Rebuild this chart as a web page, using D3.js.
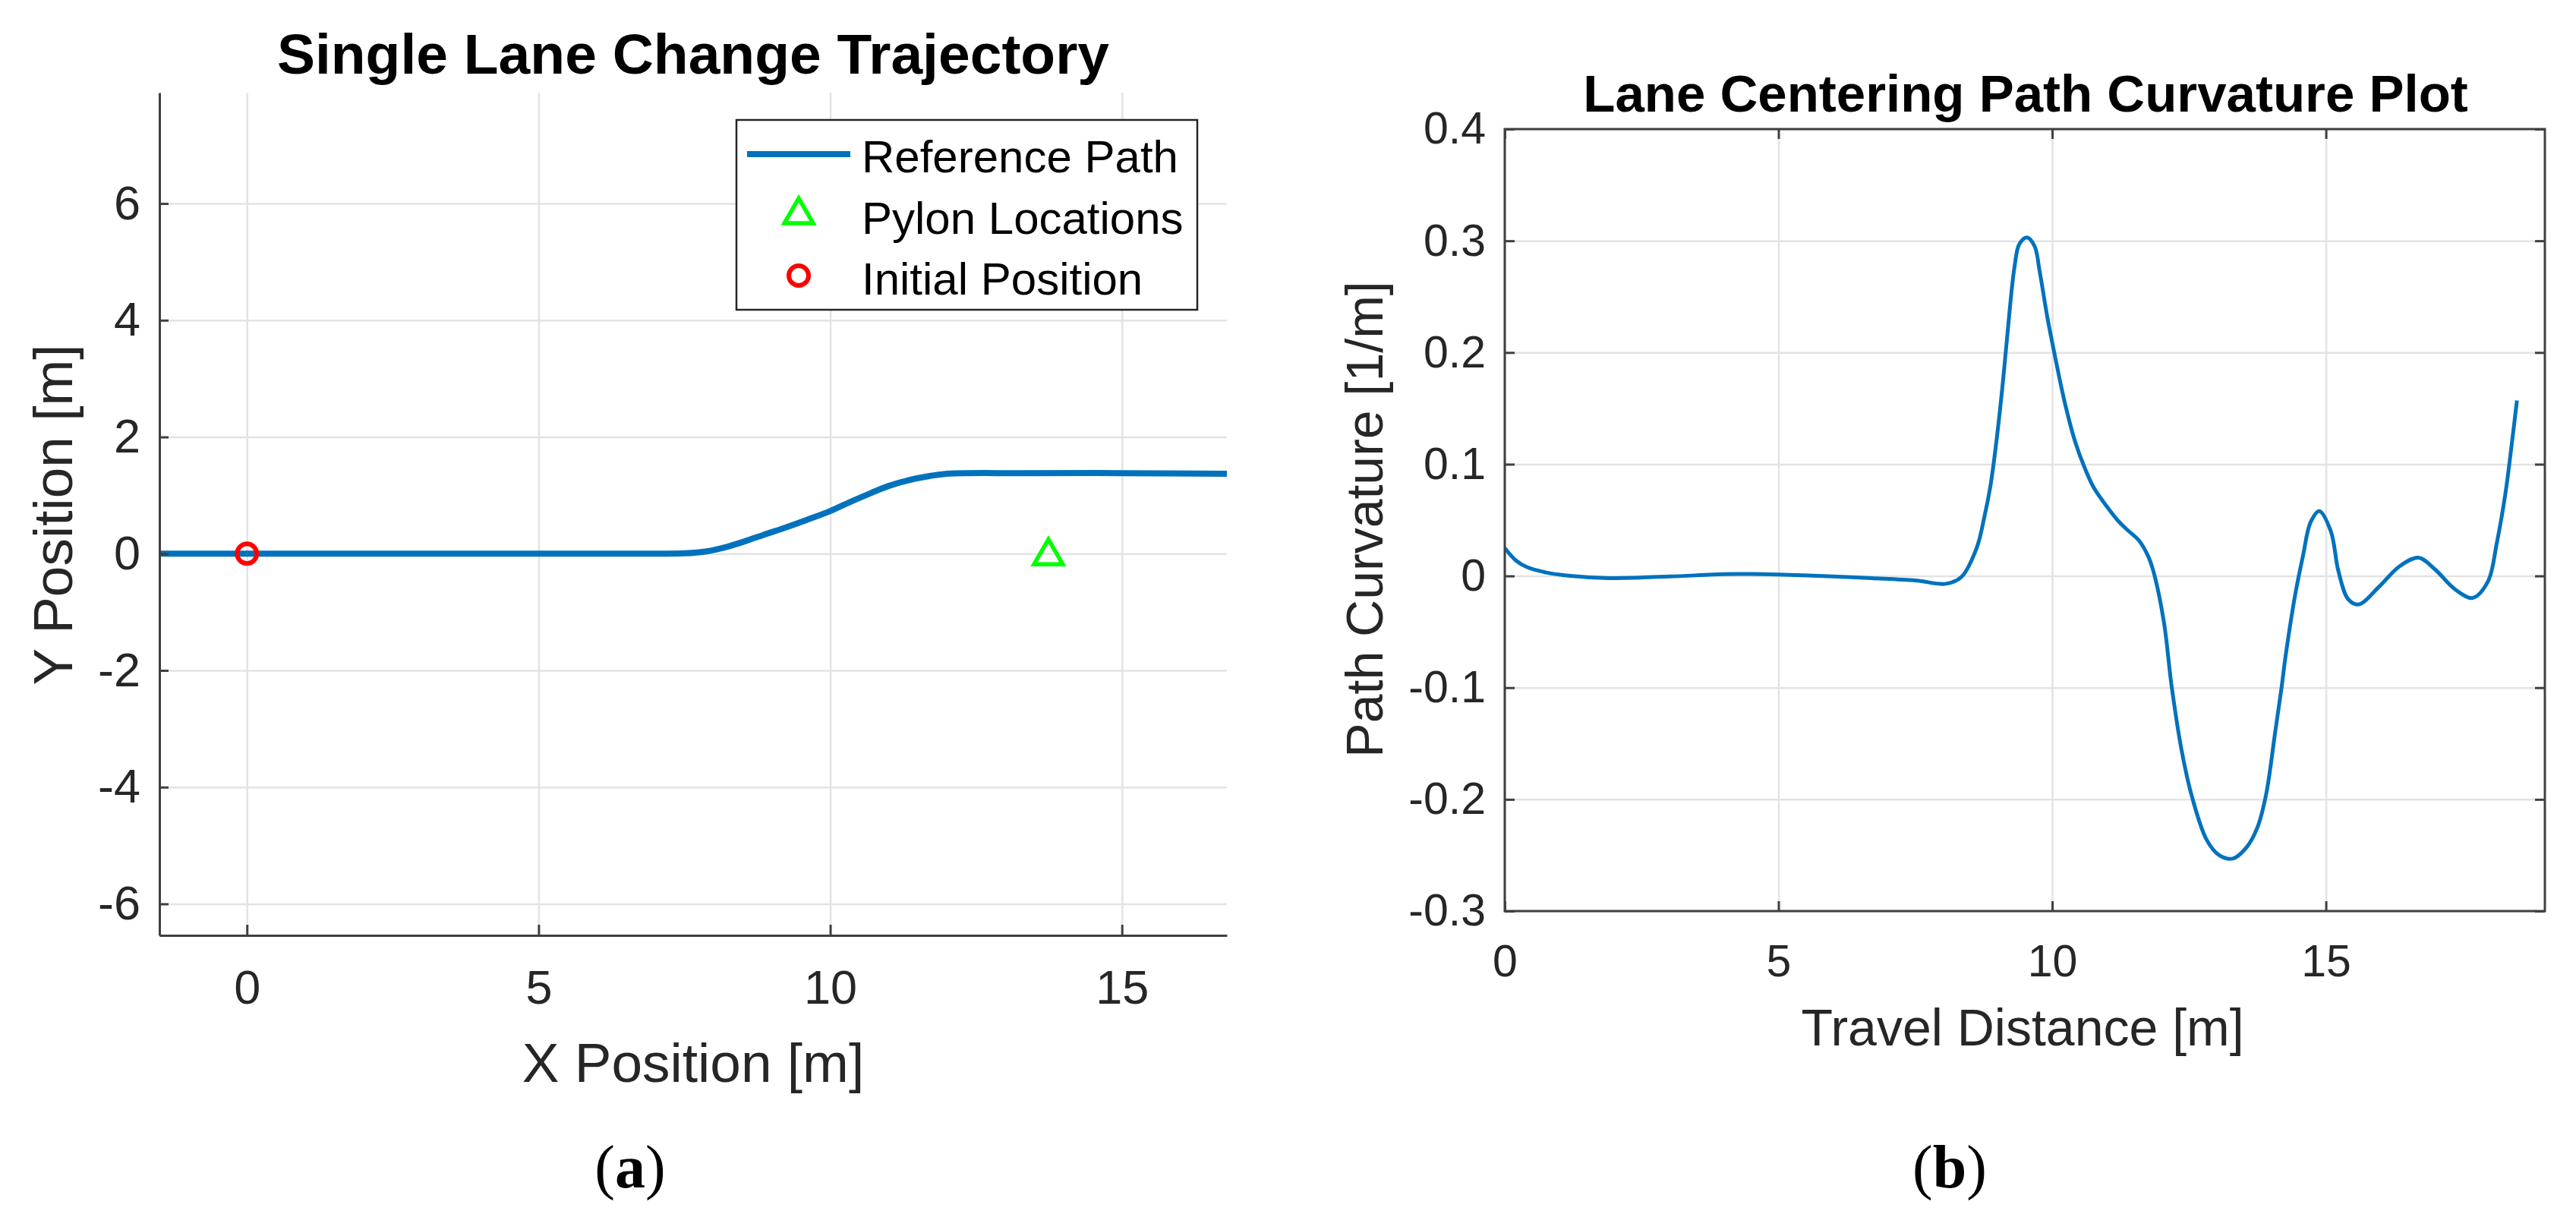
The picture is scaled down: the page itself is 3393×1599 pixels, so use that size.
<!DOCTYPE html>
<html>
<head>
<meta charset="utf-8">
<script src="https://cdn.jsdelivr.net/npm/d3@7/dist/d3.min.js"></script>
<style>
  body { margin: 0; background: #fff; }
  svg { display: block; font-family: "Liberation Sans", Arial, sans-serif; }
  .tick text { fill: #262626; }
</style>
</head>
<body>
<svg id="chart"></svg>
<script>
// ---- data ----
// (a) reference path, X / Y position in metres
const pathX = [-1.5, 0, 2, 4, 6, 6.8, 7.5, 7.88, 8.2, 8.53, 8.85, 9.18, 9.6, 10.0, 10.35, 10.7, 11.0, 11.35, 11.7, 12.0, 13.3, 15, 16.8];
const pathY = [0, 0, 0, 0, 0, 0, 0.006, 0.04, 0.11, 0.21, 0.32, 0.43, 0.58, 0.73, 0.89, 1.04, 1.16, 1.26, 1.33, 1.37, 1.38, 1.38, 1.37];
const pylonX = [13.74];
const pylonY = [0];
const initX = [0];
const initY = [0];
const xTicksA = [0, 5, 10, 15];
const yTicksA = [-6, -4, -2, 0, 2, 4, 6];
const legendLabels = ['Reference Path', 'Pylon Locations', 'Initial Position'];

// (b) curvature vs travel distance
const travel = [0, 0.2, 0.4, 0.76, 1.2, 1.9, 3.0, 4.0, 4.5, 5.0, 6.0, 6.7, 7.5, 8.06, 8.34, 8.62, 8.76, 8.87, 8.95, 9.08, 9.17,
  9.31, 9.4, 9.54, 9.68, 9.77, 9.91, 10.05, 10.24, 10.42, 10.6, 10.76, 11.0, 11.21, 11.4, 11.58, 11.75, 11.85, 12.04, 12.18,
  12.36, 12.55, 12.82, 13.05, 13.3, 13.55, 13.75, 13.91, 14.07, 14.19, 14.26, 14.44, 14.58, 14.72, 14.88, 15.09, 15.23,
  15.41, 15.6, 15.97, 16.34, 16.69, 16.99, 17.36, 17.68, 17.96, 18.12, 18.28, 18.4, 18.49];
const curvature = [0.025, 0.014, 0.008, 0.003, 0.0, -0.002, -0.0005, 0.0015, 0.0017, 0.0012, -0.0005, -0.002, -0.004, -0.007,
  -0.001, 0.025, 0.0525, 0.08, 0.108, 0.164, 0.21, 0.276, 0.297, 0.303, 0.295, 0.273, 0.232, 0.197, 0.153, 0.12, 0.096,
  0.079, 0.062, 0.049, 0.04, 0.032, 0.018, 0.004, -0.041, -0.098, -0.155, -0.197, -0.236, -0.25, -0.253, -0.243, -0.225,
  -0.195, -0.141, -0.1, -0.073, -0.0165, 0.0176, 0.048, 0.058, 0.040, 0.004, -0.021, -0.0255, -0.0097, 0.0084, 0.0163, 0.006,
  -0.012, -0.0197, -0.005, 0.029, 0.074, 0.12, 0.157];
const xTicksB = [0, 5, 10, 15];
const yTicksB = [-0.3, -0.2, -0.1, 0, 0.1, 0.2, 0.3, 0.4];

const blue = '#0072BD';
const gridColor = '#e3e3e3';
const axisColor = '#404040';

const svg = d3.select('#chart').attr('width', 3393).attr('height', 1599);

// ---------- panel (a) ----------
const a = { left: 210, top: 122, width: 1406, height: 1110 };
const gA = svg.append('g').attr('transform', `translate(${a.left},${a.top})`);
const xA = d3.scaleLinear().domain([-1.5, 16.8]).range([0, a.width]);
const yA = d3.scaleLinear().domain([-6.54, 7.9]).range([a.height, 0]);

// grid
gA.append('g').attr('transform', `translate(0,${a.height})`)
  .call(d3.axisBottom(xA).tickValues(xTicksA).tickSize(-a.height).tickFormat(''))
  .call(g => g.select('.domain').remove())
  .call(g => g.selectAll('line').attr('stroke', gridColor).attr('stroke-width', 2.5));
gA.append('g')
  .call(d3.axisLeft(yA).tickValues(yTicksA).tickSize(-a.width).tickFormat(''))
  .call(g => g.select('.domain').remove())
  .call(g => g.selectAll('line').attr('stroke', gridColor).attr('stroke-width', 2.5));

gA.append('clipPath').attr('id', 'clipA').append('rect').attr('width', a.width).attr('height', a.height);

const lineA = d3.line().x(d => xA(d[0])).y(d => yA(d[1])).curve(d3.curveCatmullRom.alpha(0.5));
gA.append('path')
  .datum(pathX.map((x, i) => [x, pathY[i]]))
  .attr('clip-path', 'url(#clipA)')
  .attr('fill', 'none')
  .attr('stroke', blue)
  .attr('stroke-width', 8)
  .attr('d', lineA);

const tri = d3.symbol().type(d3.symbolTriangle).size(620);
gA.selectAll('.pylon')
  .data(pylonX.map((x, i) => [x, pylonY[i]]))
  .enter().append('path')
  .attr('class', 'pylon')
  .attr('transform', d => `translate(${xA(d[0])},${yA(d[1]) + 3})`)
  .attr('d', tri)
  .attr('fill', 'none').attr('stroke', '#00ff00').attr('stroke-width', 5.5);

gA.selectAll('.init')
  .data(initX.map((x, i) => [x, initY[i]]))
  .enter().append('circle')
  .attr('cx', d => xA(d[0])).attr('cy', d => yA(d[1]))
  .attr('r', 13)
  .attr('fill', 'none').attr('stroke', '#ff0000').attr('stroke-width', 6);

// axes (ticks inward, no box)
gA.append('g').attr('transform', `translate(0,${a.height})`)
  .call(d3.axisBottom(xA).tickValues(xTicksA).tickSizeInner(-14).tickSizeOuter(0).tickPadding(45))
  .call(g => g.select('.domain').attr('stroke', axisColor).attr('stroke-width', 3))
  .call(g => g.selectAll('.tick line').attr('stroke', axisColor).attr('stroke-width', 3))
  .call(g => g.selectAll('text').attr('font-size', 63));
gA.append('g')
  .call(d3.axisLeft(yA).tickValues(yTicksA).tickSizeInner(-12).tickSizeOuter(0).tickPadding(25))
  .call(g => g.select('.domain').attr('stroke', axisColor).attr('stroke-width', 3))
  .call(g => g.selectAll('.tick line').attr('stroke', axisColor).attr('stroke-width', 3))
  .call(g => g.selectAll('text').attr('font-size', 63).text(d => d < 0 ? '-' + Math.abs(d) : d));

svg.append('text').attr('x', 913).attr('y', 97).attr('text-anchor', 'middle')
  .attr('font-size', 75).attr('font-weight', 'bold').attr('fill', '#000')
  .text('Single Lane Change Trajectory');
svg.append('text').attr('x', 913).attr('y', 1425).attr('text-anchor', 'middle')
  .attr('font-size', 73).attr('fill', '#262626').text('X Position [m]');
svg.append('text').attr('transform', 'translate(95,678) rotate(-90)').attr('text-anchor', 'middle')
  .attr('font-size', 73).attr('fill', '#262626').text('Y Position [m]');

// legend
const legend = svg.append('g').attr('transform', 'translate(970,158)');
legend.append('rect').attr('width', 607).attr('height', 250)
  .attr('fill', '#fff').attr('stroke', '#262626').attr('stroke-width', 2.5);
legend.append('line').attr('x1', 14).attr('x2', 150).attr('y1', 45).attr('y2', 45)
  .attr('stroke', blue).attr('stroke-width', 8);
legend.append('path').attr('transform', 'translate(82,125)').attr('d', tri)
  .attr('fill', 'none').attr('stroke', '#00ff00').attr('stroke-width', 5.5);
legend.append('circle').attr('cx', 82).attr('cy', 205).attr('r', 13)
  .attr('fill', 'none').attr('stroke', '#ff0000').attr('stroke-width', 6);
legend.selectAll('.lt').data(legendLabels).enter().append('text')
  .attr('x', 165).attr('y', (d, i) => 69 + i * 80.5)
  .attr('font-size', 60).attr('fill', '#000').text(d => d);

// ---------- panel (b) ----------
const b = { left: 1982, top: 170, width: 1370, height: 1030 };
const gB = svg.append('g').attr('transform', `translate(${b.left},${b.top})`);
const xB = d3.scaleLinear().domain([0, 19]).range([0, b.width]);
const yB = d3.scaleLinear().domain([-0.3, 0.4]).range([b.height, 0]);

gB.append('g').attr('transform', `translate(0,${b.height})`)
  .call(d3.axisBottom(xB).tickValues(xTicksB).tickSize(-b.height).tickFormat(''))
  .call(g => g.select('.domain').remove())
  .call(g => g.selectAll('line').attr('stroke', gridColor).attr('stroke-width', 2.5));
gB.append('g')
  .call(d3.axisLeft(yB).tickValues(yTicksB).tickSize(-b.width).tickFormat(''))
  .call(g => g.select('.domain').remove())
  .call(g => g.selectAll('line').attr('stroke', gridColor).attr('stroke-width', 2.5));

gB.append('clipPath').attr('id', 'clipB').append('rect').attr('width', b.width).attr('height', b.height);

const lineB = d3.line().x(d => xB(d[0])).y(d => yB(d[1])).curve(d3.curveCatmullRom.alpha(0.5));
gB.append('path')
  .datum(travel.map((s, i) => [s, curvature[i]]))
  .attr('clip-path', 'url(#clipB)')
  .attr('fill', 'none')
  .attr('stroke', blue)
  .attr('stroke-width', 5)
  .attr('d', lineB);

const styleAxis = g => {
  g.select('.domain').remove();
  g.selectAll('.tick line').attr('stroke', axisColor).attr('stroke-width', 3);
};
gB.append('g').attr('transform', `translate(0,${b.height})`)
  .call(d3.axisBottom(xB).tickValues(xTicksB).tickSizeInner(-13).tickSizeOuter(0).tickPadding(44))
  .call(styleAxis)
  .call(g => g.selectAll('text').attr('font-size', 59));
gB.append('g')
  .call(d3.axisTop(xB).tickValues(xTicksB).tickSizeInner(-13).tickSizeOuter(0).tickFormat(''))
  .call(styleAxis);
gB.append('g')
  .call(d3.axisLeft(yB).tickValues(yTicksB).tickSizeInner(-13).tickSizeOuter(0).tickPadding(25))
  .call(styleAxis)
  .call(g => g.selectAll('text').attr('font-size', 59)
    .text(d => Math.abs(d) < 1e-9 ? '0' : (d < 0 ? '-' : '') + d3.format('.1f')(Math.abs(d))));
gB.append('g').attr('transform', `translate(${b.width},0)`)
  .call(d3.axisRight(yB).tickValues(yTicksB).tickSizeInner(-13).tickSizeOuter(0).tickFormat(''))
  .call(styleAxis);
gB.append('rect').attr('width', b.width).attr('height', b.height)
  .attr('fill', 'none').attr('stroke', axisColor).attr('stroke-width', 3);

svg.append('text').attr('x', 2668).attr('y', 147).attr('text-anchor', 'middle')
  .attr('font-size', 69).attr('font-weight', 'bold').attr('fill', '#000')
  .text('Lane Centering Path Curvature Plot');
svg.append('text').attr('x', 2664).attr('y', 1377).attr('text-anchor', 'middle')
  .attr('font-size', 68).attr('fill', '#262626').text('Travel Distance [m]');
svg.append('text').attr('transform', 'translate(1821,684) rotate(-90)').attr('text-anchor', 'middle')
  .attr('font-size', 68).attr('fill', '#262626').text('Path Curvature [1/m]');

// sub-figure captions
const cap = (x, letter) => {
  const t = svg.append('text').attr('x', x).attr('y', 1564).attr('text-anchor', 'middle')
    .attr('font-family', '"Liberation Serif", "Times New Roman", serif').attr('font-size', 80).attr('fill', '#000');
  t.append('tspan').text('(');
  t.append('tspan').attr('font-weight', 'bold').text(letter);
  t.append('tspan').text(')');
};
cap(830, 'a');
cap(2568, 'b');
</script>
</body>
</html>
